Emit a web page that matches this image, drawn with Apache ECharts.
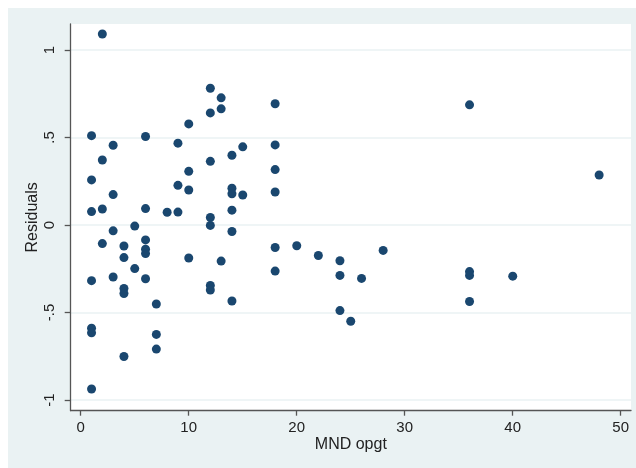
<!DOCTYPE html>
<html><head><meta charset="utf-8">
<script src="https://cdn.jsdelivr.net/npm/echarts@6/dist/echarts.min.js"></script>
<style>html,body{margin:0;padding:0;background:#fff}#c{width:636px;height:468px}</style>
</head><body><div id="c"></div>
<script>
// MND opgt (x) and residuals (y)
const mndOpgt = [2,12,13,18,36,12,13,10,1,6,9,3,18,15,14,2,12,18,10,48,1,9,10,14,14,18,3,15,1,2,6,8,9,14,12,12,5,3,14,6,2,4,18,20,28,6,6,22,4,10,13,24,5,18,36,36,24,40,3,26,6,1,12,12,4,4,14,36,7,24,25,1,1,7,7,4,1];
const residuals = [1.092,0.782,0.727,0.693,0.687,0.641,0.664,0.578,0.511,0.506,0.468,0.456,0.458,0.447,0.399,0.372,0.364,0.317,0.307,0.286,0.258,0.227,0.200,0.210,0.179,0.189,0.174,0.172,0.077,0.092,0.094,0.073,0.074,0.085,0.043,-0.002,-0.006,-0.033,-0.037,-0.085,-0.106,-0.120,-0.128,-0.118,-0.145,-0.138,-0.163,-0.174,-0.186,-0.188,-0.206,-0.204,-0.249,-0.263,-0.266,-0.288,-0.288,-0.292,-0.297,-0.305,-0.307,-0.318,-0.345,-0.371,-0.362,-0.391,-0.434,-0.437,-0.451,-0.489,-0.550,-0.590,-0.616,-0.625,-0.709,-0.751,-0.937];
const xTicks = [0,10,20,30,40,50];
const yTicks = [-1,-0.5,0,0.5,1];
const yTickLabels = ['-1','-.5','0','.5','1'];
const xTitle = 'MND opgt';
const yTitle = 'Residuals';

const points = mndOpgt.map((x, i) => [x, residuals[i]]);
const FONT = '"Liberation Sans", Arial, sans-serif';
const txt = '#222';
const axisCol = '#555';
const gridCol = '#eaf2f3';

const chart = echarts.init(document.getElementById('c'), null, {renderer: 'canvas'});
chart.setOption({
  backgroundColor: '#fff',
  animation: false,
  graphic: [{type: 'rect', shape: {x: 8, y: 8, width: 628, height: 460}, style: {fill: '#eaf2f3'}, z: -10, silent: true}],
  grid: [
    {left: 70.7, right: 5, top: 24, bottom: 57.3, show: true, backgroundColor: '#fff', borderWidth: 0},
    {left: 70.7, right: 5, top: 50, bottom: 68, show: false},
    {left: 80.7, right: 15.3, top: 24, bottom: 57.3, show: false}
  ],
  xAxis: [
    {gridIndex: 0, type: 'value', min: -0.93, max: 50.95,
     axisLine: {show: true, onZero: false, lineStyle: {color: axisCol, width: 1.3}},
     axisTick: {show: false}, axisLabel: {show: false}, splitLine: {show: false},
     name: xTitle, nameLocation: 'middle', nameGap: 26,
     nameTextStyle: {fontFamily: FONT, fontSize: 16, color: txt}},
    {gridIndex: 1, type: 'value', show: false, min: 0, max: 1},
    {gridIndex: 2, type: 'value', min: xTicks[0], max: xTicks[xTicks.length-1], interval: 10,
     axisLine: {show: false, onZero: false}, position: 'bottom',
     axisTick: {show: true, length: 5, lineStyle: {color: axisCol, width: 1.3}},
     axisLabel: {show: true, margin: 10, fontFamily: FONT, fontSize: 15, color: txt},
     splitLine: {show: false}}
  ],
  yAxis: [
    {gridIndex: 0, type: 'value', min: -1.061, max: 1.149,
     axisLine: {show: true, onZero: false, lineStyle: {color: axisCol, width: 1.3}},
     axisTick: {show: false}, axisLabel: {show: false}, splitLine: {show: false},
     name: yTitle, nameLocation: 'middle', nameGap: 30,
     nameTextStyle: {fontFamily: FONT, fontSize: 16, color: txt}},
    {gridIndex: 1, type: 'value', min: yTicks[0], max: yTicks[yTicks.length-1], interval: 0.5,
     axisLine: {show: false, onZero: false},
     axisTick: {show: true, length: 6, lineStyle: {color: axisCol, width: 1.3}},
     axisLabel: {show: true, rotate: 90, margin: 13, fontFamily: FONT, fontSize: 15, color: txt,
       formatter: v => { const i = yTicks.findIndex(t => Math.abs(t - v) < 1e-9); return i >= 0 ? yTickLabels[i] : ''; }},
     splitLine: {show: true, lineStyle: {color: gridCol, width: 1.5}}},
    {gridIndex: 2, type: 'value', show: false, min: 0, max: 1}
  ],
  series: [{
    type: 'scatter', xAxisIndex: 0, yAxisIndex: 0, data: points,
    symbol: 'circle', symbolSize: 9, z: 5,
    itemStyle: {color: '#1a476f', opacity: 1}
  }]
});
</script></body></html>
